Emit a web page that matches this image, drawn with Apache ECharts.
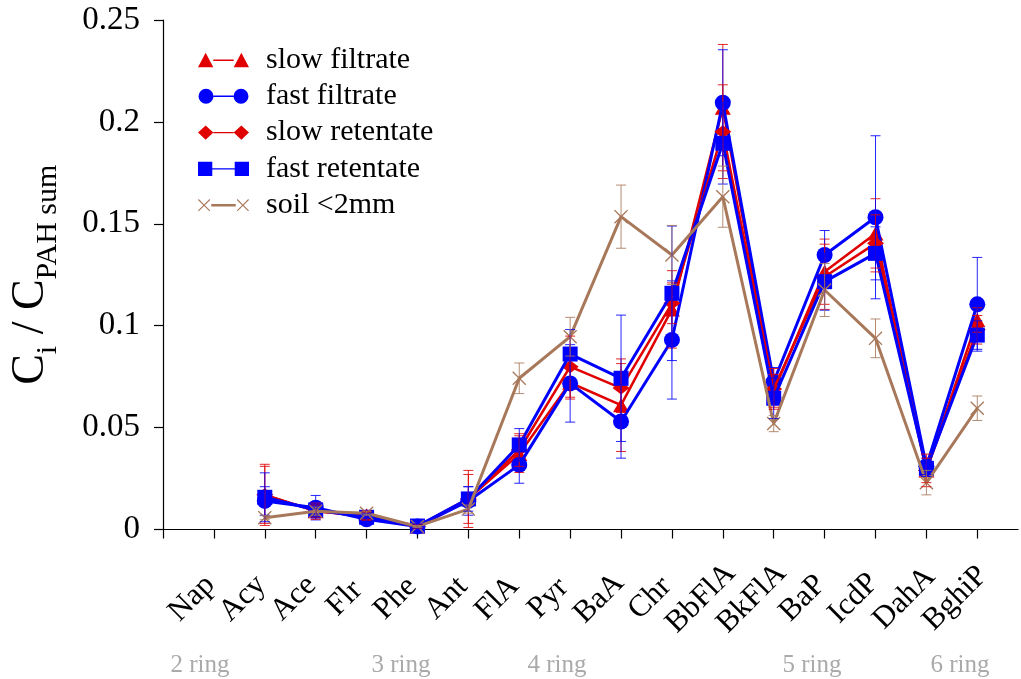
<!DOCTYPE html>
<html>
<head>
<meta charset="utf-8">
<script src="https://cdn.jsdelivr.net/npm/echarts@6/dist/echarts.min.js"></script>
<style>
  html, body { margin: 0; padding: 0; background: #ffffff; }
  #chart { width: 1021px; height: 679px; }
</style>
</head>
<body>
<div id="chart"></div>
<script>
// PAH compounds, ordered by ring number (position 1..16 on the x axis)
const categories = ['Nap', 'Acy', 'Ace', 'Flr', 'Phe', 'Ant', 'FlA', 'Pyr', 'BaA', 'Chr',
                    'BbFlA', 'BkFlA', 'BaP', 'IcdP', 'DahA', 'BghiP'];

// Relative concentrations C_i / C_PAH sum (Nap not determined)
const slowFiltrate  = [null, 0.017, 0.009, 0.007, 0.0015, 0.015, 0.037, 0.072, 0.061, 0.108, 0.207, 0.068, 0.1265, 0.1453, 0.029, 0.1028];
const fastFiltrate  = [null, 0.014, 0.0107, 0.005, 0.0015, 0.014, 0.0317, 0.0717, 0.053, 0.093, 0.2094, 0.0725, 0.1347, 0.1532, 0.031, 0.1105];
const slowRetentate = [null, 0.017, 0.009, 0.0065, 0.0015, 0.015, 0.039, 0.0799, 0.0694, 0.111, 0.1952, 0.069, 0.124, 0.1404, 0.029, 0.098];
const fastRetentate = [null, 0.0158, 0.0096, 0.006, 0.0017, 0.015, 0.0415, 0.0861, 0.0742, 0.1159, 0.1895, 0.0644, 0.1216, 0.1355, 0.030, 0.0954];
const soil          = [null, 0.0058, 0.009, 0.008, 0.0015, 0.010, 0.0742, 0.0946, 0.1535, 0.1347, 0.1633, 0.052, 0.1175, 0.0938, 0.023, 0.0595];

// Standard deviations
const slowFiltrateSD  = [null, 0.015, 0.003, 0.002, 0.001, 0.014, 0.009, 0.008, 0.0227, 0.019, 0.031, 0.008, 0.016, 0.017, 0.008, 0.006];
const fastFiltrateSD  = [null, 0.007, 0.006, 0.002, 0.001, 0.007, 0.009, 0.019, 0.018, 0.029, 0.026, 0.007, 0.012, 0.040, 0.004, 0.023];
const slowRetentateSD = [null, 0.014, 0.004, 0.002, 0.001, 0.012, 0.008, 0.015, 0.012, 0.010, 0.023, 0.010, 0.016, 0.014, 0.006, 0.007];
const fastRetentateSD = [null, 0.012, 0.004, 0.002, 0.001, 0.006, 0.008, 0.012, 0.031, 0.033, 0.020, 0.010, 0.014, 0.013, 0.004, 0.007];
const soilSD          = [null, 0.001, 0.002, 0.001, 0.0005, 0.002, 0.0075, 0.0095, 0.0155, 0.0145, 0.015, 0.004, 0.013, 0.0095, 0.006, 0.006];

// Ring-number groups shown under the compound names
const ringLabels = ['2 ring', '3 ring', '4 ring', '5 ring', '6 ring'];
const ringLabelX = [200, 401, 557, 812, 960];

const RED = '#e00000';
const BLUE = '#0000ff';
const BROWN = '#a8785a';
const FONT = '"Liberation Serif", "Times New Roman", serif';

// Symbol shapes
const X_PATH = 'path://M0,0.8 L0.8,0 L6,5.2 L11.2,0 L12,0.8 L6.8,6 L12,11.2 L11.2,12 L6,6.8 L0.8,12 L0,11.2 L5.2,6 Z';

// Legend icons: symbol - line - symbol
const ICON_TRI = 'path://M0,14 L7.5,0 L15,14 Z M15,6.5 L35,6.5 L35,8 L15,8 Z M35,14 L42.5,0 L50,14 Z';
const ICON_CIRC = 'path://M0,7.5 A7.5,7.5 0 1 1 15,7.5 A7.5,7.5 0 1 1 0,7.5 Z M15,6.8 L35,6.8 L35,8.2 L15,8.2 Z M35,7.5 A7.5,7.5 0 1 1 50,7.5 A7.5,7.5 0 1 1 35,7.5 Z';
const ICON_DIAM = 'path://M0,7 L7.5,0 L15,7 L7.5,14 Z M15,6.3 L35,6.3 L35,7.7 L15,7.7 Z M35,7 L42.5,0 L50,7 L42.5,14 Z';
const ICON_RECT = 'path://M0,0 L14,0 L14,14 L0,14 Z M14,6.3 L36,6.3 L36,7.7 L14,7.7 Z M36,0 L50,0 L50,14 L36,14 Z';
const ICON_X = 'path://M0,1.8 L0.8,1 L6,6.2 L11.2,1 L12,1.8 L6.8,7 L12,12.2 L11.2,13 L6,7.8 L0.8,13 L0,12.2 L5.2,7 Z ' +
               'M13,5.8 L37,5.8 L37,8.2 L13,8.2 Z ' +
               'M38,1.8 L38.8,1 L44,6.2 L49.2,1 L50,1.8 L44.8,7 L50,12.2 L49.2,13 L44,7.8 L38.8,13 L38,12.2 L43.2,7 Z M0,0 L0.01,0 L0.01,0.01 Z M49.99,14 L50,14 L50,13.99 Z';

function toPoints(values) {
  return values.map((v, i) => [i + 1, v]);
}

function lineSeries(name, values, color, symbol, symbolSize, lineWidth, z) {
  return {
    type: 'line',
    name: name,
    data: toPoints(values),
    symbol: symbol,
    symbolSize: symbolSize,
    showAllSymbol: true,
    connectNulls: false,
    z: z,
    itemStyle: { color: color, borderWidth: 0 },
    lineStyle: { color: color, width: lineWidth },
    emphasis: { disabled: true },
    animation: false
  };
}

function errorSeries(name, values, errors, color, z) {
  const data = [];
  values.forEach((v, i) => {
    if (v != null) data.push([i + 1, v - errors[i], v + errors[i]]);
  });
  return {
    type: 'custom',
    name: name,
    z: z,
    silent: true,
    animation: false,
    encode: { x: 0, y: [1, 2] },
    renderItem: function (params, api) {
      const x = api.value(0);
      const lo = api.coord([x, api.value(1)]);
      const hi = api.coord([x, api.value(2)]);
      const w = 5;
      const style = { stroke: color, lineWidth: 1, opacity: 0.85 };
      return {
        type: 'group',
        children: [
          { type: 'line', shape: { x1: hi[0], y1: hi[1], x2: lo[0], y2: lo[1] }, style: style },
          { type: 'line', shape: { x1: hi[0] - w, y1: hi[1], x2: hi[0] + w, y2: hi[1] }, style: style },
          { type: 'line', shape: { x1: lo[0] - w, y1: lo[1], x2: lo[0] + w, y2: lo[1] }, style: style }
        ]
      };
    },
    data: data
  };
}

const tickPositions = Array.from({ length: categories.length + 1 }, (_, i) => i);
const labelPositions = categories.map((_, i) => i + 1);

const chart = echarts.init(document.getElementById('chart'), null, { renderer: 'canvas' });

chart.setOption({
  backgroundColor: '#ffffff',
  animation: false,
  grid: { left: 163, right: 3, top: 20, bottom: 149.5, containLabel: false, outerBoundsMode: 'none' },
  legend: {
    orient: 'vertical',
    left: 193,
    top: 40,
    itemWidth: 51,
    itemHeight: 15,
    itemGap: 6.3,
    selectedMode: false,
    textStyle: { fontFamily: FONT, fontSize: 30, color: '#000', lineHeight: 30, padding: [0, 0, 0, 12] },
    itemStyle: { borderWidth: 0 },
    data: [
      { name: 'slow filtrate', icon: ICON_TRI, itemStyle: { color: RED, borderWidth: 0 } },
      { name: 'fast filtrate', icon: ICON_CIRC, itemStyle: { color: BLUE, borderWidth: 0 } },
      { name: 'slow retentate', icon: ICON_DIAM, itemStyle: { color: RED, borderWidth: 0 } },
      { name: 'fast retentate', icon: ICON_RECT, itemStyle: { color: BLUE, borderWidth: 0 } },
      { name: 'soil <2mm', icon: ICON_X, itemStyle: { color: BROWN, borderWidth: 0 } }
    ]
  },
  xAxis: {
    type: 'value',
    min: 0,
    max: 16.8,
    splitLine: { show: false },
    axisLine: { show: true, onZero: false, lineStyle: { color: '#000', width: 1.2 } },
    axisTick: { show: true, inside: false, length: 9, customValues: tickPositions, lineStyle: { color: '#000', width: 1.2 } },
    axisLabel: {
      customValues: labelPositions,
      rotate: 45,
      margin: 47,
      align: 'center',
      verticalAlign: 'middle',
      padding: [0, 62, 0, 0],
      fontFamily: FONT,
      fontSize: 31,
      color: '#000',
      formatter: function (v) { return categories[Math.round(v) - 1] || ''; }
    }
  },
  yAxis: {
    type: 'value',
    min: 0,
    max: 0.25,
    interval: 0.05,
    splitLine: { show: false },
    axisLine: { show: true, lineStyle: { color: '#000', width: 1.2 } },
    axisTick: { show: true, inside: false, length: 9, lineStyle: { color: '#000', width: 1.2 } },
    axisLabel: {
      margin: 23,
      fontFamily: FONT,
      fontSize: 33,
      color: '#000',
      formatter: function (v) { return String(+v.toFixed(2)); }
    },
    name: '{c|C}{s|i}{c| / C}{s|PAH sum}',
    nameLocation: 'middle',
    nameRotate: 90,
    nameGap: 100,
    nameTextStyle: {
      fontFamily: FONT,
      color: '#000',
      rich: {
        c: { fontFamily: FONT, fontSize: 46, color: '#000', verticalAlign: 'bottom', padding: [0, 0, 9, 0] },
        s: { fontFamily: FONT, fontSize: 30, color: '#000', verticalAlign: 'bottom' }
      }
    }
  },
  graphic: ringLabels.map((t, i) => ({
    type: 'text',
    x: ringLabelX[i],
    y: 665,
    silent: true,
    style: { text: t, fill: '#aaaaaa', fontFamily: FONT, fontSize: 25, align: 'center', verticalAlign: 'middle' }
  })),
  series: [
    lineSeries('slow filtrate', slowFiltrate, RED, 'triangle', [16, 14], 2.5, 2),
    lineSeries('fast filtrate', fastFiltrate, BLUE, 'circle', 16, 3, 3),
    lineSeries('slow retentate', slowRetentate, RED, 'diamond', [17, 13], 2.5, 4),
    lineSeries('fast retentate', fastRetentate, BLUE, 'rect', 15, 3, 5),
    lineSeries('soil <2mm', soil, BROWN, X_PATH, 14, 3, 6),
    errorSeries('slow filtrate sd', slowFiltrate, slowFiltrateSD, RED, 7),
    errorSeries('fast filtrate sd', fastFiltrate, fastFiltrateSD, BLUE, 7),
    errorSeries('slow retentate sd', slowRetentate, slowRetentateSD, RED, 7),
    errorSeries('fast retentate sd', fastRetentate, fastRetentateSD, BLUE, 7),
    errorSeries('soil sd', soil, soilSD, BROWN, 7)
  ]
});
</script>
</body>
</html>
